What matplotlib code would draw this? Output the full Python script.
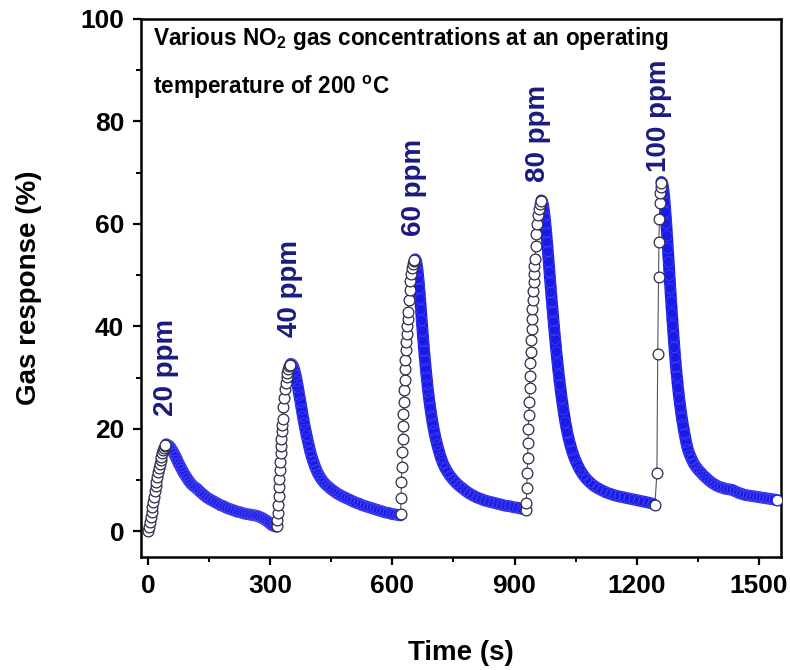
import numpy as np
import matplotlib
matplotlib.use("Agg")
import matplotlib.pyplot as plt
from matplotlib.ticker import MultipleLocator

plt.rcParams["font.family"] = ["Liberation Sans", "DejaVu Sans"]
plt.rcParams["font.weight"] = "bold"
plt.rcParams["mathtext.fontset"] = "custom"
plt.rcParams["mathtext.rm"] = "Liberation Sans:bold"
plt.rcParams["mathtext.bf"] = "Liberation Sans:bold"

# ── Transient response, one block per NO2 pulse (time in s, response in %) ──
t_20ppm = [0, 2, 4, 6, 8, 10, 12, 14, 16, 18, 20, 22, 24, 26, 28, 30, 32, 34, 36, 38, 40, 42, 44,
           47, 51, 55, 59, 63, 67, 71, 75, 79, 83, 87, 91, 95, 100, 105, 110, 115, 120, 126, 132,
           138, 144, 150, 157, 164, 171, 178, 185, 192, 199, 206, 213, 220, 227, 234, 241, 248,
           255, 262, 268, 274, 280, 286, 292, 298, 304, 310, 314]
r_20ppm = [0.0, 0.9, 1.8, 2.8, 3.8, 4.8, 5.8, 6.8, 7.8, 8.8, 9.7, 10.6, 11.5, 12.3, 13.1, 13.9, 14.6,
           15.2, 15.8, 16.3, 16.7, 16.9, 17.0,
           16.9, 16.7, 16.3, 15.8, 15.2, 14.6, 13.9, 13.2, 12.6, 12.0, 11.4, 10.9, 10.4, 9.8, 9.3,
           8.9, 8.6, 8.3, 7.8, 7.4, 7.0, 6.6, 6.3, 6.0, 5.7, 5.4, 5.1, 4.9, 4.6, 4.4, 4.2, 4.0, 3.8,
           3.7, 3.5, 3.4, 3.3, 3.2, 3.1, 3.0, 2.8, 2.6, 2.3, 2.0, 1.6, 1.2, 1.0, 0.9]

t_40ppm = [316, 317, 318, 319, 320, 321, 322, 323, 324, 325, 326, 327, 328, 329, 330, 332, 334, 336,
           338, 340, 342, 344, 346, 348, 350,
           353, 356, 359, 362, 365, 368, 371, 374, 377, 380, 383, 386, 389, 392, 395, 398, 401, 405,
           409, 413, 417, 422, 427, 432, 438, 444, 450, 457, 464, 471, 478, 486, 494, 502, 510, 518,
           526, 534, 542, 550, 558, 566, 574, 582, 590, 598, 606, 614, 619]
r_40ppm = [1.0, 2.2, 3.6, 5.2, 6.9, 8.6, 10.3, 12.0, 13.6, 15.2, 16.7, 18.1, 19.5, 20.8, 22.0, 24.2,
           26.1, 27.7, 29.0, 30.1, 31.0, 31.7, 32.2, 32.5, 32.7,
           32.6, 32.2, 31.5, 30.5, 29.3, 28.0, 26.6, 25.2, 23.8, 22.4, 21.1, 19.9, 18.7, 17.6, 16.6,
           15.6, 14.7, 13.7, 12.8, 12.0, 11.3, 10.6, 10.0, 9.5, 9.0, 8.6, 8.2, 7.8, 7.4, 7.1, 6.8,
           6.5, 6.2, 5.9, 5.6, 5.4, 5.1, 4.9, 4.7, 4.5, 4.3, 4.1, 3.9, 3.7, 3.6, 3.4, 3.3, 3.2, 3.1]

t_60ppm = [620, 621, 622, 623, 624, 625, 626, 627, 628, 629, 630, 631, 632, 633, 634, 635, 636, 637,
           638, 640, 642, 644, 646, 648, 650, 652, 654, 656,
           658, 660, 662, 664, 666, 668, 670, 672, 674, 676, 678, 680, 682, 684, 686, 688, 690, 693,
           696, 699, 702, 706, 710, 714, 719, 724, 730, 736, 742, 749, 756, 764, 772, 780, 789, 798,
           808, 818, 828, 838, 848, 858, 868, 878, 888, 898, 908, 918, 926]
r_60ppm = [3.3, 6.5, 9.6, 12.6, 15.4, 18.1, 20.6, 23.0, 25.3, 27.5, 29.6, 31.6, 33.5, 35.3, 37.0,
           38.6, 40.1, 41.5, 42.8, 45.2, 47.2, 48.9, 50.3, 51.4, 52.2, 52.7, 53.0, 53.1,
           52.8, 52.0, 50.8, 49.2, 47.4, 45.4, 43.3, 41.2, 39.1, 37.1, 35.2, 33.4, 31.7, 30.1, 28.6,
           27.2, 25.9, 24.1, 22.5, 21.0, 19.7, 18.2, 16.9, 15.7, 14.4, 13.3, 12.3, 11.5, 10.8, 10.1,
           9.5, 8.9, 8.4, 7.9, 7.4, 7.0, 6.6, 6.3, 6.0, 5.8, 5.6, 5.4, 5.2, 5.0, 4.9, 4.7, 4.6, 4.4,
           4.3]

t_80ppm = [928, 929, 930, 931, 932, 933, 934, 935, 936, 937, 938, 939, 940, 941, 942, 943, 944, 945,
           946, 947, 948, 949, 950, 952, 954, 956, 958, 960, 962, 964, 966,
           968, 970, 972, 974, 976, 978, 980, 982, 984, 986, 988, 990, 992, 994, 996, 998, 1000,
           1003, 1006, 1009, 1012, 1016, 1020, 1025, 1030, 1035, 1041, 1047, 1054, 1061, 1069, 1077,
           1086, 1095, 1105, 1115, 1125, 1136, 1147, 1158, 1170, 1182, 1194, 1206, 1218, 1230, 1240]
r_80ppm = [4.2, 5.6, 8.5, 11.4, 14.3, 17.2, 20.0, 22.7, 25.3, 27.9, 30.4, 32.8, 35.1, 37.3, 39.4,
           41.4, 43.3, 45.1, 46.9, 48.6, 50.2, 51.7, 53.1, 55.7, 58.0, 60.0, 61.7, 63.0, 63.9, 64.4,
           64.6,
           64.4, 63.8, 62.8, 61.5, 60.0, 58.3, 56.5, 54.6, 52.6, 50.6, 48.6, 46.6, 44.7, 42.8, 41.0,
           39.2, 37.5, 35.0, 32.7, 30.5, 28.5, 26.0, 23.8, 21.3, 19.2, 17.5, 15.8, 14.4, 13.1, 12.0,
           11.0, 10.2, 9.5, 8.9, 8.4, 8.0, 7.6, 7.3, 7.0, 6.8, 6.6, 6.4, 6.2, 6.0, 5.8, 5.6, 5.4]

t_100ppm = [1245, 1250, 1252, 1254, 1255, 1256, 1257, 1258, 1259, 1260, 1261,
            1263, 1265, 1267, 1269, 1271, 1273, 1275, 1277, 1279, 1281, 1283, 1285, 1287, 1289,
            1291, 1293, 1295, 1297, 1299, 1302, 1305, 1308, 1311, 1314, 1318, 1322, 1326, 1331,
            1336, 1341, 1347, 1353, 1359, 1366, 1373, 1380, 1387, 1395, 1403, 1411, 1419, 1427,
            1435, 1443, 1451, 1459, 1467, 1475, 1483, 1491, 1499, 1507, 1515, 1523, 1531, 1539,
            1546]
r_100ppm = [5.2, 11.3, 34.6, 49.6, 56.5, 61.0, 64.0, 66.0, 67.2, 67.9, 68.2,
            68.0, 67.3, 66.0, 64.3, 62.3, 60.1, 57.7, 55.2, 52.6, 50.0, 47.4, 44.9, 42.5, 40.2,
            38.0, 35.9, 33.9, 32.0, 30.3, 28.0, 25.9, 24.0, 22.3, 20.8, 19.0, 17.4, 16.0, 14.9,
            14.0, 13.2, 12.5, 11.9, 11.4, 10.8, 10.3, 9.8, 9.4, 9.0, 8.7, 8.5, 8.3, 8.2, 8.1, 7.8,
            7.5, 7.3, 7.1, 7.0, 6.9, 6.8, 6.7, 6.6, 6.5, 6.4, 6.3, 6.2, 6.1]

pulses = [(t_20ppm, r_20ppm), (t_40ppm, r_40ppm), (t_60ppm, r_60ppm),
          (t_80ppm, r_80ppm), (t_100ppm, r_100ppm)]
conc_labels = ["20 ppm", "40 ppm", "60 ppm", "80 ppm", "100 ppm"]
# where each concentration tag sits (time, response at text bottom)
label_anchor = [(44, 22.5), (347, 37.9), (653, 57.6), (958, 68.2), (1254, 70.1)]

RISE_EDGE = "#2b2b48"
BAND_BLUE = "#1a1ae8"
LABEL_NAVY = "#1b1b80"

fig = plt.figure(figsize=(7.9, 6.7), dpi=100)
ax = fig.add_axes([0.1785, 0.1687, 0.8101, 0.803])

all_t = np.concatenate([np.asarray(t, float) for t, _ in pulses])
all_r = np.concatenate([np.asarray(r, float) for _, r in pulses])

# thin line joining every sample
ax.plot(all_t, all_r, color="#555555", lw=0.8, zorder=1)

for t, r in pulses:
    t = np.asarray(t, float)
    r = np.asarray(r, float)
    k = int(np.argmax(r))
    # recovery branch: densely packed symbols merge into a solid blue band
    ax.plot(t[k:], r[k:], color=BAND_BLUE, lw=8.5, solid_capstyle="round",
            solid_joinstyle="round", zorder=2)
    ax.scatter(t[k:], r[k:], s=56, facecolors="none", edgecolors="#6a6af5",
               linewidths=0.5, alpha=0.5, zorder=3)
    # response branch: open circles
    ax.scatter(t[:k], r[:k], s=60, facecolors="white", edgecolors=RISE_EDGE,
               linewidths=0.9, zorder=4)

ax.scatter(all_t[-1:], all_r[-1:], s=60, facecolors="white", edgecolors=BAND_BLUE,
           linewidths=0.9, zorder=5)

for lbl, (x, y) in zip(conc_labels, label_anchor):
    ax.text(x, y, lbl, rotation=90, ha="center", va="bottom", fontsize=20,
            fontweight="bold", color=LABEL_NAVY)

ax.text(12, 96.1, r"Various NO$_\mathbf{2}$ gas concentrations at an operating",
        fontsize=16.3, fontweight="bold", ha="left", va="center")
ax.text(12, 86.7, r"temperature of 200 $^\mathrm{o}$C",
        fontsize=16.3, fontweight="bold", ha="left", va="center")

ax.set_xlim(-18, 1555)
ax.set_ylim(-5, 100)
ax.xaxis.set_major_locator(MultipleLocator(300))
ax.xaxis.set_minor_locator(MultipleLocator(150))
ax.yaxis.set_major_locator(MultipleLocator(20))
ax.yaxis.set_minor_locator(MultipleLocator(10))

ax.tick_params(which="major", direction="out", length=6, width=1.6, labelsize=19, pad=6)
ax.tick_params(which="minor", direction="out", length=3.8, width=1.4)
ax.tick_params(top=False, right=False, which="both")
for s in ax.spines.values():
    s.set_linewidth(1.8)

ax.set_xlabel("Time (s)", fontsize=20, fontweight="bold")
ax.set_ylabel("Gas response (%)", fontsize=20, fontweight="bold")
ax.xaxis.set_label_coords(0.5, -0.154)
ax.xaxis.label.set_va("top")
ax.yaxis.set_label_coords(-0.155, 0.5)

fig.savefig("out.png", dpi=100)
